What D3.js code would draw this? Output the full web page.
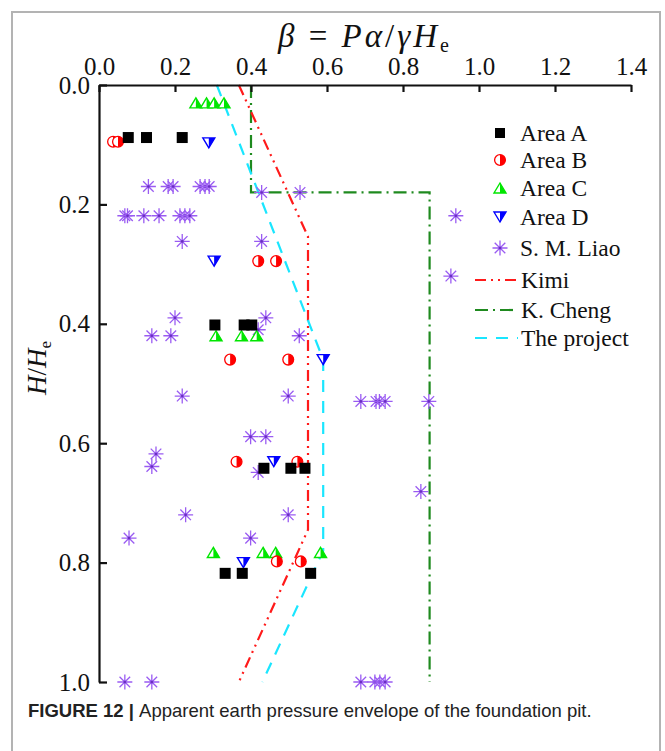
<!DOCTYPE html>
<html><head><meta charset="utf-8">
<script src="https://cdn.jsdelivr.net/npm/d3@7"></script>
<style>body{margin:0;background:#fff;}svg{display:block;}</style>
</head><body>
<script>
// ---------- data ----------
const xTicks = [0.0,0.2,0.4,0.6,0.8,1.0,1.2,1.4];
const yTicks = [0.0,0.2,0.4,0.6,0.8,1.0];

const areaA = [[0.077,0.088],[0.125,0.088],[0.219,0.088],[0.305,0.402],[0.382,0.402],[0.402,0.402],
  [0.434,0.642],[0.505,0.642],[0.542,0.642],[0.332,0.818],[0.377,0.818],[0.557,0.818]];
const areaB = [[0.037,0.095],[0.050,0.095],[0.419,0.295],[0.466,0.295],[0.345,0.46],[0.498,0.46],
  [0.362,0.631],[0.522,0.631],[0.468,0.798],[0.531,0.798]];
const areaC = [[0.255,0.03],[0.283,0.03],[0.303,0.03],[0.329,0.03],[0.308,0.42],[0.375,0.42],[0.415,0.42],
  [0.301,0.783],[0.432,0.783],[0.465,0.783],[0.583,0.783]];
const areaD = [[0.289,0.097],[0.303,0.295],[0.59,0.46],[0.46,0.631],[0.38,0.80]];
const liao = [
  [0.13,0.17],[0.182,0.17],[0.195,0.17],[0.266,0.17],[0.279,0.17],[0.29,0.17],
  [0.428,0.18],[0.529,0.18],
  [0.068,0.219],[0.075,0.219],[0.118,0.219],[0.158,0.219],[0.213,0.219],[0.226,0.219],[0.239,0.219],[0.939,0.219],
  [0.219,0.262],[0.428,0.262],[0.926,0.32],
  [0.2,0.39],[0.439,0.39],[0.419,0.41],
  [0.139,0.42],[0.189,0.42],[0.527,0.42],
  [0.219,0.521],[0.498,0.521],
  [0.689,0.53],[0.729,0.53],[0.738,0.53],[0.753,0.53],[0.868,0.53],
  [0.399,0.589],[0.439,0.589],
  [0.15,0.618],[0.139,0.639],[0.419,0.649],[0.847,0.681],
  [0.228,0.72],[0.498,0.72],
  [0.079,0.759],[0.399,0.759],
  [0.068,1.0],[0.139,1.0],[0.689,1.0],[0.726,1.0],[0.739,1.0],[0.753,1.0]
];
const kimiX = [0.368,0.55,0.55,0.368];
const kimiY = [0,0.254,0.745,1.0];
const chengX = [0.40,0.40,0.87,0.87];
const chengY = [0,0.18,0.18,1.0];
const projX = [0.31,0.59,0.59,0.43];
const projY = [0,0.46,0.78,1.0];

const legendLabels = ["Area A","Area B","Area C","Area D","S. M. Liao","Kimi","K. Cheng","The project"];

// ---------- drawing ----------
const W = 665, H = 751;
const svg = d3.select("body").append("svg").attr("width",W).attr("height",H);
svg.append("rect").attr("width",W).attr("height",H).attr("fill","#fff");
svg.append("path").attr("d","M12,760 V12 H660 V760").attr("fill","none").attr("stroke","#b3b3b3").attr("stroke-width",2);

const x = d3.scaleLinear().domain([0,1.4]).range([99,631]);
const y = d3.scaleLinear().domain([0,1]).range([85,682]);
const serif = "'Liberation Serif','Times New Roman',serif";

const COL = {A:"#000",B:"#ff0000",C:"#00e600",D:"#0000ff",L:"#9a5cf2",kimi:"#ff1a1a",cheng:"#1f8a1f",proj:"#1ae6ff"};

// lines
const line = d3.line().x(d=>x(d[0])).y(d=>y(d[1]));
const zip = (a,b)=>a.map((v,i)=>[v,b[i]]);
const g = svg.append("g");
g.append("path").datum(zip(chengX,chengY)).attr("d",line).attr("fill","none")
  .attr("stroke",COL.cheng).attr("stroke-width",2.2).attr("stroke-dasharray","13,5,2,5");
g.append("path").datum(zip(kimiX,kimiY)).attr("d",line).attr("fill","none")
  .attr("stroke",COL.kimi).attr("stroke-width",2.2).attr("stroke-dasharray","11,5,2,5,2,5");
g.append("path").datum(zip(projX,projY)).attr("d",line).attr("fill","none")
  .attr("stroke",COL.proj).attr("stroke-width",2.2).attr("stroke-dasharray","12,9");

// axes
const xAxis = d3.axisTop(x).tickValues(xTicks).tickFormat(d3.format(".1f")).tickSizeInner(-7).tickSizeOuter(0).tickPadding(10);
const ax = svg.append("g").attr("transform",`translate(0,${y(0)})`).call(xAxis);
const yAxis = d3.axisLeft(y).tickValues(yTicks).tickFormat(d3.format(".1f")).tickSizeInner(-8).tickSizeOuter(0).tickPadding(9);
const ay = svg.append("g").attr("transform",`translate(${x(0)},0)`).call(yAxis);
[ax,ay].forEach(a=>{
  a.attr("font-family",null).attr("font-size",null);
  a.select(".domain").attr("stroke","#111").attr("stroke-width",2.2);
  a.selectAll(".tick line").attr("stroke","#111").attr("stroke-width",2.2);
  a.selectAll(".tick text").style("font-family",serif).style("font-size","25px").attr("fill","#111");
});

// markers
function sq(sel,s){ sel.append("rect").attr("x",-s/2).attr("y",-s/2).attr("width",s).attr("height",s).attr("fill","#000"); }
function halfCircle(sel){
  const r=5.4;
  sel.append("circle").attr("r",r).attr("fill","#fff").attr("stroke",COL.B).attr("stroke-width",1.3);
  sel.append("path").attr("d",`M0,${-r} A${r},${r} 0 0 1 0,${r} Z`).attr("fill",COL.B);
}
function triUp(sel,c){
  const h=10,w=12;
  sel.append("path").attr("d",`M0,${-h/2} L${w/2},${h/2} L${-w/2},${h/2} Z`).attr("fill","#fff").attr("stroke",c).attr("stroke-width",1.4);
  sel.append("path").attr("d",`M0,${-h/2} L${w/2},${h/2} L0,${h/2} Z`).attr("fill",c);
}
function triDown(sel,c){
  const h=10,w=12;
  sel.append("path").attr("d",`M${-w/2},${-h/2} L${w/2},${-h/2} L0,${h/2} Z`).attr("fill","#fff").attr("stroke",c).attr("stroke-width",1.4);
  sel.append("path").attr("d",`M0,${-h/2} L${w/2},${-h/2} L0,${h/2} Z`).attr("fill",c);
}
function star(sel){
  const r=7.5;
  const p=[0,45,90,135].map(a=>{const t=a*Math.PI/180;return `M${-r*Math.cos(t)},${-r*Math.sin(t)} L${r*Math.cos(t)},${r*Math.sin(t)}`;}).join(" ");
  sel.append("path").attr("d",p).attr("stroke",COL.L).attr("stroke-width",1.3).attr("fill","none");
  sel.append("circle").attr("r",1.3).attr("fill","#6a2fc0");
}
function plot(data,fn){
  svg.append("g").selectAll("g").data(data).join("g")
    .attr("transform",d=>`translate(${x(d[0])},${y(d[1])})`).each(function(){fn(d3.select(this));});
}
plot(liao,star);
plot(areaC,s=>triUp(s,COL.C));
plot(areaD,s=>triDown(s,COL.D));
plot(areaB,halfCircle);
plot(areaA,s=>sq(s,11));

// titles
const t = svg.append("text").attr("x",365).attr("y",47).attr("text-anchor","middle")
  .style("font-family",serif).style("font-size","33px").style("letter-spacing","3px").attr("fill","#111");
t.append("tspan").attr("font-style","italic").text("β");
t.append("tspan").text(" = ");
t.append("tspan").attr("font-style","italic").text("Pα");
t.append("tspan").text("/");
t.append("tspan").attr("font-style","italic").text("γH");
t.append("tspan").style("font-size","20px").attr("dy",5).text("e");

const yt = svg.append("text").attr("transform","translate(46,368) rotate(-90)").attr("text-anchor","middle")
  .style("font-family",serif).style("font-size","27px").attr("fill","#111");
yt.append("tspan").attr("font-style","italic").text("H");
yt.append("tspan").text("/");
yt.append("tspan").attr("font-style","italic").text("H");
yt.append("tspan").style("font-size","17px").attr("dy",5).text("e");

// legend
const legY = [133,160,188,217,248,280,310,338];
const mk = [s=>sq(s,10),halfCircle,s=>triUp(s,COL.C),s=>triDown(s,COL.D),star];
const lineStyles = [[COL.kimi,"11,5,2,5,2,5"],[COL.cheng,"13,5,2,5"],[COL.proj,"12,9"]];
legendLabels.forEach((lab,i)=>{
  const gg = svg.append("g").attr("transform",`translate(0,${legY[i]})`);
  if(i<5){
    const m = gg.append("g").attr("transform","translate(500,0)");
    mk[i](m);
  } else {
    const ls = lineStyles[i-5];
    gg.append("line").attr("x1",475).attr("x2",518).attr("stroke",ls[0]).attr("stroke-width",2.2).attr("stroke-dasharray",ls[1]);
  }
  gg.append("text").attr("x",i<5?520:521).attr("y",8).style("font-family",serif).style("font-size","23.5px").attr("fill","#111").text(lab);
});

// caption
const cap = svg.append("text").attr("x",28).attr("y",717).style("font-family","'Liberation Sans',Arial,sans-serif")
  .style("font-size","18.5px").attr("fill","#222");
cap.append("tspan").attr("font-weight","bold").text("FIGURE 12 | ");
cap.append("tspan").text("Apparent earth pressure envelope of the foundation pit.");
</script>
</body></html>
